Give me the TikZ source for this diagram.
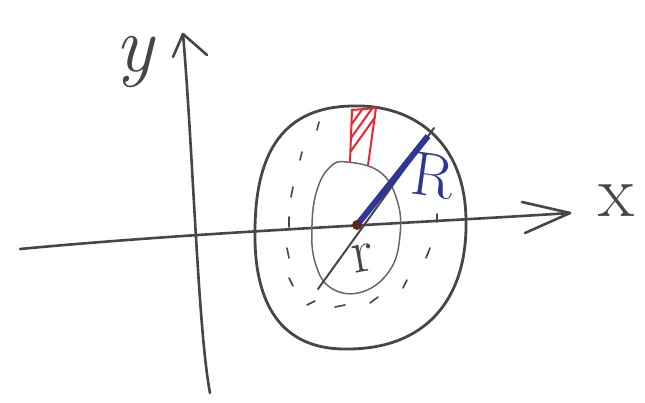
\documentclass[tikz,border=0pt]{standalone}
\usetikzlibrary{calc}
\definecolor{pen}{HTML}{4A4545}
\definecolor{penlight}{HTML}{6A6666}
\definecolor{bluepen}{HTML}{2E3796}
\definecolor{redpen}{HTML}{EE2430}
\definecolor{dotcol}{HTML}{5A2A20}
\tikzset{
  axisline/.style={draw=pen, line width=2.6pt, line cap=round, line join=round},
  blob/.style={draw=pen, line width=2.8pt, line join=round},
  innerline/.style={draw=penlight, line width=1.5pt},
  dashmark/.style={draw=pen, line width=1.6pt, line cap=round},
  radial/.style={draw=pen, line width=2pt, line cap=round},
  hatch/.style={draw=redpen, line width=2pt, line cap=round},
}
\begin{document}
\begin{tikzpicture}[x=1pt,y=-1pt]
\useasboundingbox (0,0) rectangle (645,402);
% coordinates
\coordinate (xs) at (20,249);
\coordinate (xe) at (570,213);
\coordinate (ys) at (210,393);
\coordinate (ye) at (183,34);
\coordinate (O) at (357,225);
\coordinate (Rend) at (434,128);
\coordinate (Rblue) at (428,136);
\coordinate (rend) at (318,289);
\coordinate (bt) at (352,106);
\coordinate (br) at (466,222);
\coordinate (bb) at (345,349);
\coordinate (bl) at (255,232);
% x axis
\draw[axisline] (xs) .. controls (200,232) and (400,224) .. (xe);
\draw[axisline] (xe) -- (522,202);
\draw[axisline] (xe) -- (525,233);
% y axis
\draw[axisline] (ys) .. controls (198,330) and (193,150) .. (ye);
\draw[axisline] (ye) -- (173,57);
\draw[axisline] (ye) -- (207,55);
% outer blob
\draw[blob] (bt) .. controls (412,104) and (466,140) .. (br)
  .. controls (467,300) and (425,350) .. (bb)
  .. controls (282,349) and (254,305) .. (bl)
  .. controls (255,150) and (285,107) .. (bt) -- cycle;
% inner ellipse
\draw[innerline] plot[smooth cycle, tension=0.7] coordinates {
 (347,162) (380,172) (397,200) (400,235) (390,270) (362,292) (331,288)
 (315,262) (312,225) (317,190) (330,167)};
% dashed ring marks
\foreach \cx/\cy/\dx/\dy in {318/126/1/-4, 301/156/1/-4, 292/192/1/-5, 289/222/0/-5,
  288/253/-1/-5, 291/282/-2/-4, 311/303/4/-2, 340/306/5/-1, 374/300/4/-3,
  405/284/2/-4, 428/253/2/-5, 437/218/0/-4}
  \draw[dashmark] (\cx-\dx,\cy-\dy) -- (\cx+\dx,\cy+\dy);
% red hatched patch
\draw[hatch] (350,162) -- (352,110) -- (376,108);
\draw[hatch] (376,108) -- (368,165);
\begin{scope}
  \clip (350,163) -- (352,109) -- (377,107) -- (369,166) -- cycle;
  \foreach \k in {0,...,4}
    \draw[hatch] ($(346,158)+(0,-13*\k)$) -- ++(30,-42);
\end{scope}
% radial lines
\draw[radial] (rend) -- (Rend);
\draw[draw=bluepen, line width=6pt] (O) -- (Rblue);
\fill[dotcol] (O) circle (5);
% labels
\node[text=bluepen, font=\fontsize{62}{62}\selectfont, rotate=-8] (Rlab) at (433,176) {R};
\node[text=pen, font=\fontsize{62}{62}\selectfont, rotate=10] (rlab) at (363,258) {r};
\node[text=pen, font=\fontsize{74}{74}\selectfont] (xlab) at (616,201) {x};
\node[text=pen, inner sep=0pt, font=\itshape\fontsize{80}{80}\selectfont] (ylab) at (134,62) {y};
\end{tikzpicture}
\end{document}
